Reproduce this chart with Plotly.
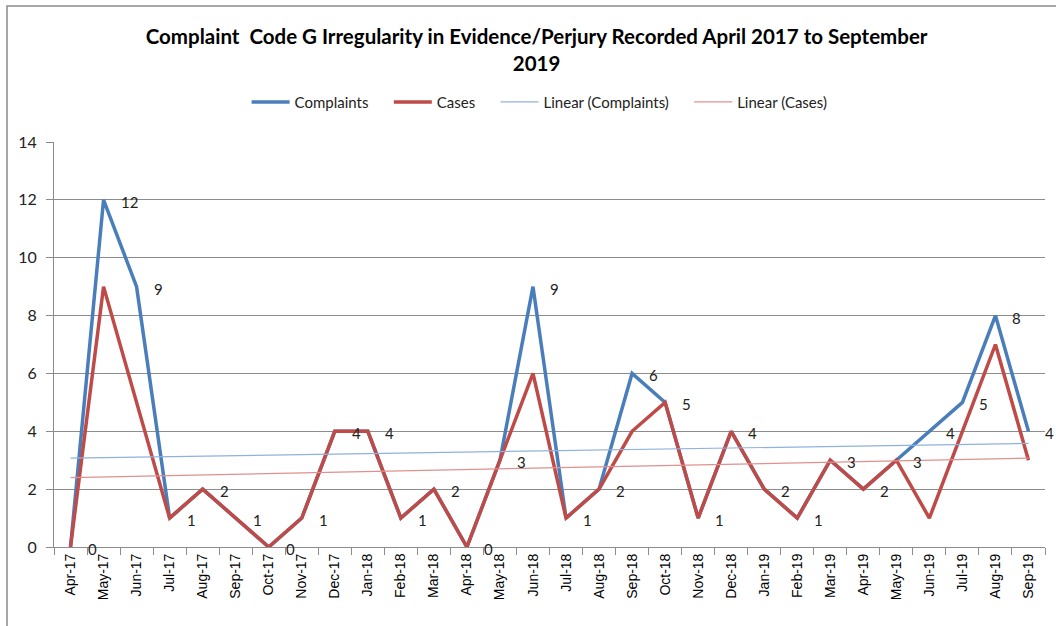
import plotly.graph_objects as go

months = ["Apr-17", "May-17", "Jun-17", "Jul-17", "Aug-17", "Sep-17", "Oct-17", "Nov-17",
          "Dec-17", "Jan-18", "Feb-18", "Mar-18", "Apr-18", "May-18", "Jun-18", "Jul-18",
          "Aug-18", "Sep-18", "Oct-18", "Nov-18", "Dec-18", "Jan-19", "Feb-19", "Mar-19",
          "Apr-19", "May-19", "Jun-19", "Jul-19", "Aug-19", "Sep-19"]
complaints = [0, 12, 9, 1, 2, 1, 0, 1, 4, 4, 1, 2, 0, 3, 9, 1, 2, 6, 5, 1, 4, 2, 1, 3, 2, 3, 4, 5, 8, 4]
cases = [0, 9, 5, 1, 2, 1, 0, 1, 4, 4, 1, 2, 0, 3, 6, 1, 2, 4, 5, 1, 4, 2, 1, 3, 2, 3, 1, 4, 7, 3]

# linear trend lines, end points
trend_complaints = [3.07, 3.58]
trend_cases = [2.40, 3.07]
y_ticks = [0, 2, 4, 6, 8, 10, 12, 14]

BLUE = "#4A7EBB"
RED = "#BE4B48"
GRID = "#8C8C8C"
PAD = "\u00a0" * 4  # extra room between legend entries

fig = go.Figure()
fig.add_trace(go.Scatter(x=months, y=complaints, name="Complaints" + PAD, mode="lines",
                         line=dict(color=BLUE, width=3.5)))
fig.add_trace(go.Scatter(x=months, y=cases, name="Cases" + PAD, mode="lines",
                         line=dict(color=RED, width=3.5)))
fig.add_trace(go.Scatter(x=[months[0], months[-1]], y=trend_complaints, name="Linear (Complaints)" + PAD,
                         mode="lines", line=dict(color="#8FB1DD", width=1.2)))
fig.add_trace(go.Scatter(x=[months[0], months[-1]], y=trend_cases, name="Linear (Cases)",
                         mode="lines", line=dict(color="#E0908E", width=1.2)))

# data labels to the right of the complaints points
for m, v in zip(months, complaints):
    fig.add_annotation(x=m, y=v, text=str(v), showarrow=False, xanchor="left",
                       xshift=15, yshift=-2, font=dict(family="Lato", size=15, color="#222222"))

# chart area border
fig.add_shape(type="rect", xref="paper", yref="paper", x0=-0.0474, y0=-0.3, x1=1.2, y1=1.3358,
              line=dict(color="#8C8C8C", width=1.5), layer="below")

fig.update_layout(
    width=1056, height=626,
    margin=dict(l=54, r=11, t=142, b=79),
    paper_bgcolor="white", plot_bgcolor="white",
    title=dict(text="Complaint  Code G Irregularity in Evidence/Perjury Recorded April 2017 to September<br>2019",
               x=0.487, xref="paper", xanchor="center", y=0.9297, yanchor="middle",
               font=dict(family="Lato", size=20.5, color="black", weight="bold")),
    legend=dict(orientation="h", x=0.49, xanchor="center", y=1.0983, yanchor="middle",
                font=dict(family="Lato", size=15, color="#222222"), itemwidth=38,
                traceorder="normal"),
    showlegend=True,
    xaxis=dict(type="category", range=[-0.5, len(months) - 0.5], tickangle=-90,
               ticks="outside", tickson="boundaries", ticklen=7, tickcolor=GRID,
               showline=True, linecolor=GRID, linewidth=1, showgrid=False,
               tickfont=dict(family="Liberation Sans", size=14, color="black")),
    yaxis=dict(range=[0, 14], tickvals=y_ticks, ticks="outside", ticklen=7, tickcolor=GRID,
               showline=True, linecolor=GRID, linewidth=1, showgrid=True, gridcolor=GRID,
               gridwidth=1, zeroline=False, ticklabelstandoff=6,
               tickfont=dict(family="Lato", size=16, color="#222222")),
)

fig.write_html("out.html", config={"displayModeBar": False},
               post_script="document.body.style.margin='0';")
